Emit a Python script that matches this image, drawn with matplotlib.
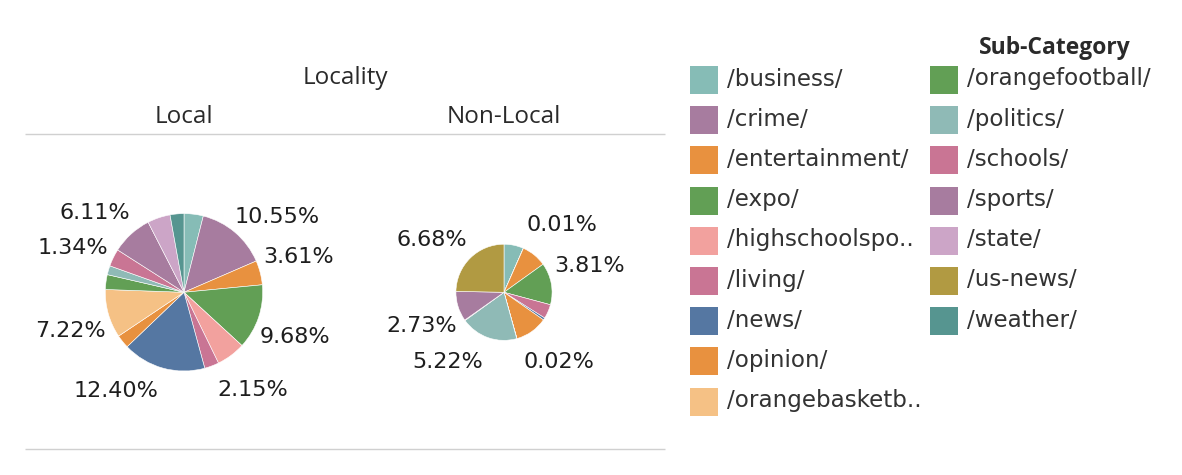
import numpy as np
import matplotlib
matplotlib.use("Agg")
import matplotlib.pyplot as plt
from matplotlib.patches import Rectangle

# ---------------- data ----------------
categories = ["/business/", "/crime/", "/entertainment/", "/expo/", "/highschoolsports/",
              "/living/", "/news/", "/opinion/", "/orangebasketball/", "/orangefootball/",
              "/politics/", "/schools/", "/sports/", "/state/", "/us-news/", "/weather/"]
legend_labels = ["/business/", "/crime/", "/entertainment/", "/expo/", "/highschoolspo..",
                 "/living/", "/news/", "/opinion/", "/orangebasketb..", "/orangefootball/",
                 "/politics/", "/schools/", "/sports/", "/state/", "/us-news/", "/weather/"]
# percent of total
local_values = [2.86, 10.55, 3.61, 9.68, 4.32, 2.15, 12.40, 2.00, 7.22, 2.20,
                1.34, 2.60, 6.11, 3.40, 0.00, 2.06]
nonlocal_values = [1.78, 0.01, 2.29, 3.81, 0.00, 1.30, 0.20, 2.96, 0.02, 0.00,
                   5.22, 0.05, 2.73, 0.00, 6.68, 0.00]
localities = ["Local", "Non-Local"]
local_labeled = ["/crime/", "/entertainment/", "/expo/", "/living/", "/news/",
                 "/orangebasketball/", "/politics/", "/sports/"]
nonlocal_labeled = ["/crime/", "/expo/", "/orangebasketball/", "/politics/",
                    "/sports/", "/us-news/"]

# ---------------- style ----------------
palette = {
    "/business/": "#86BCB6", "/crime/": "#A77C9F", "/entertainment/": "#E8913F",
    "/expo/": "#629F55", "/highschoolsports/": "#F2A19E", "/living/": "#C97594",
    "/news/": "#5577A2", "/opinion/": "#E8913F", "/orangebasketball/": "#F5C185",
    "/orangefootball/": "#629F55", "/politics/": "#8FBAB6", "/schools/": "#C97594",
    "/sports/": "#A77C9F", "/state/": "#CCA5C7", "/us-news/": "#B19A42",
    "/weather/": "#569590",
}
# label angle nudges (deg, clockwise) to mimic label collision avoidance
nudge_local = {"/crime/": 10.6, "/entertainment/": -2.5, "/expo/": 3.4, "/living/": -14.4,
               "/news/": 19.0, "/orangebasketball/": -3.0, "/politics/": 5.4, "/sports/": -6.0}
nudge_nonlocal = {"/crime/": 17.0, "/expo/": -6.7, "/orangebasketball/": -22.5,
                  "/politics/": 19.6, "/sports/": -5.4, "/us-news/": -9.6}

W, H = 1182, 475
fig = plt.figure(figsize=(W / 100, H / 100), dpi=100)
ax = fig.add_axes([0, 0, 1, 1])

def Y(y):
    return H - y

txt_col = "#333333"
hdr_font = dict(family=["Open Sans", "DejaVu Sans"], fontsize=17.5, color="#2a2a2a")

# headers
ax.text(345, Y(84), "Locality", ha="center", va="baseline", **hdr_font)
pie_cx = [184, 504]
for name, cx in zip(localities, pie_cx):
    ax.text(cx, Y(123), name, ha="center", va="baseline", **hdr_font)
for yy in (134, 449):
    ax.plot([25, 665], [Y(yy), Y(yy)], color="#d0d0d0", lw=1.0, solid_capstyle="butt")

# pies
k = 78.7 / np.sqrt(72.5)
pie_cy = 292.3
for vals, cx, labeled, nudges in [(local_values, pie_cx[0], local_labeled, nudge_local),
                                  (nonlocal_values, pie_cx[1], nonlocal_labeled, nudge_nonlocal)]:
    cats = [c for c, v in zip(categories, vals) if v > 0]
    vs = [v for v in vals if v > 0]
    total = sum(vs)
    r = k * np.sqrt(total)
    ax.pie(vs, colors=[palette[c] for c in cats], startangle=90, counterclock=False,
           center=(cx, Y(pie_cy)), radius=r, frame=True,
           wedgeprops=dict(edgecolor="white", linewidth=0.4))
    cum = 0.0
    for c, v in zip(cats, vs):
        mid = (cum + v / 2) / total * 360.0
        cum += v
        if c in labeled:
            a = np.deg2rad(mid + nudges.get(c, 0.0))
            d = r + 41
            ax.text(cx + d * np.sin(a), Y(pie_cy) + d * np.cos(a), f"{v:.2f}%",
                    ha="center", va="center", fontsize=16.0, color="#1e1e1e",
                    family="DejaVu Sans")

# legend
ax.text(1055, Y(54), "Sub-Category", ha="center", va="baseline",
        family=["Open Sans", "DejaVu Sans"], fontweight="bold", fontsize=16.5,
        color="#2a2a2a")
n_col1 = 9
for i, (c, lab) in enumerate(zip(categories, legend_labels)):
    col, row = divmod(i, n_col1)
    sx = 690 + col * 240
    yc = 80 + row * 40.2
    ax.add_patch(Rectangle((sx, Y(yc) - 14), 28, 28, facecolor=palette[c], edgecolor="none"))
    ax.text(sx + 37, Y(yc) + 1, lab, ha="left", va="center", fontsize=16.6,
            color=txt_col, family="DejaVu Sans")

ax.set_xlim(0, W)
ax.set_ylim(0, H)
ax.set_aspect("equal")
ax.axis("off")
fig.savefig("out.png", dpi=100, facecolor="white")
